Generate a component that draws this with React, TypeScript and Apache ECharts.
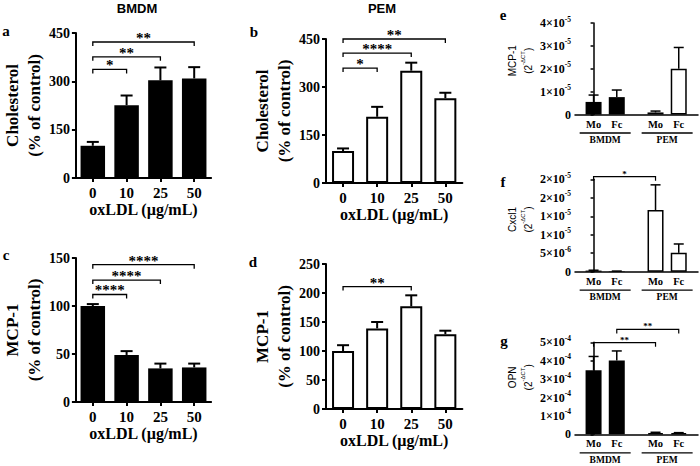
import React, { useEffect, useRef } from 'react';
import * as echarts from 'echarts';

const SERIF = '"Liberation Serif", "Times New Roman", Times, serif';
const SANS = '"Liberation Sans", Arial, Helvetica, sans-serif';

// ---------------- data ----------------
const doseLabels = ['0', '10', '25', '50'];
const cholBmdmMean = [100, 226, 303, 309];
const cholBmdmSem = [12, 30, 40, 35];
const cholPemMean = [100, 207, 351, 265];
const cholPemSem = [8, 31, 25, 17];
const mcpBmdmMean = [100, 49, 35, 36];
const mcpBmdmSem = [2, 4, 5, 4];
const mcpPemMean = [100, 139, 177, 129];
const mcpPemSem = [10, 11, 19, 6];

const sigCholBmdm = [[0, 1, 337], [0, 2, 376], [0, 3, 422]];
const sigCholBmdmLabels = ['*', '**', '**'];
const sigCholPem = [[0, 1, 359], [0, 2, 406], [0, 3, 450]];
const sigCholPemLabels = ['*', '****', '**'];
const sigMcpBmdm = [[0, 1, 112], [0, 2, 127], [0, 3, 143]];
const sigMcpBmdmLabels = ['****', '****', '****'];
const sigMcpPem = [[0, 2, 211]];
const sigMcpPemLabels = ['**'];

const cellLabels = ['Mo', 'Fc', 'Mo', 'Fc'];
const cellGroup = ['BMDM', 'BMDM', 'PEM', 'PEM'];
const groupNames = ['BMDM', 'PEM'];
const mcp1Mean = [0.55e-5, 0.76e-5, 0.09e-5, 2.0e-5];
const mcp1Sem = [0.3e-5, 0.31e-5, 0.06e-5, 0.93e-5];
const cxcl1Mean = [0.03e-5, 0.012e-5, 1.67e-5, 0.51e-5];
const cxcl1Sem = [0.01e-5, 0.005e-5, 0.68e-5, 0.24e-5];
const opnMean = [3.48e-4, 4.01e-4, 0.07e-4, 0.06e-4];
const opnSem = [0.75e-4, 0.52e-4, 0.04e-4, 0.03e-4];

const sigMcp1: number[][] = [];
const sigMcp1Labels: string[] = [];
const sigCxcl1 = [[0, 2, 2.57e-5]];
const sigCxcl1Labels = ['*'];
const sigOpn = [[0, 2, 4.98e-4], [1, 3, 5.7e-4]];
const sigOpnLabels = ['**', '**'];

const mcp1TickLabels = [['0', ''], ['1', '-5'], ['2', '-5'], ['3', '-5'], ['4', '-5']];
const cxcl1TickLabels = [['0', ''], ['5', '-6'], ['1', '-5'], ['1', '-5'], ['2', '-5'], ['2', '-5']];
const opnTickLabels = [['0', ''], ['1', '-4'], ['2', '-4'], ['3', '-4'], ['4', '-4'], ['5', '-4']];

// ---------------- layout ----------------
const cellGap = 0.67; // extra space between the two cell groups (in slot units)
const cellSlot = cellLabels.map((_, i) => i + (i >= 2 ? cellGap : 0));

const dosePanels = [
  { grid: { left: 73.5, top: 33, width: 137.6, height: 145 }, mean: cholBmdmMean, sem: cholBmdmSem, max: 450, interval: 150, yName: 'Cholesterol\n(% of control)', fill: '#000', sig: sigCholBmdm, sigLabels: sigCholBmdmLabels },
  { grid: { left: 326, top: 39, width: 136.4, height: 144 }, mean: cholPemMean, sem: cholPemSem, max: 450, interval: 150, yName: 'Cholesterol\n(% of control)', fill: '#fff', sig: sigCholPem, sigLabels: sigCholPemLabels },
  { grid: { left: 73.5, top: 258, width: 137.6, height: 144 }, mean: mcpBmdmMean, sem: mcpBmdmSem, max: 150, interval: 50, yName: 'MCP-1\n(% of control)', fill: '#000', sig: sigMcpBmdm, sigLabels: sigMcpBmdmLabels },
  { grid: { left: 326, top: 264, width: 136.4, height: 145 }, mean: mcpPemMean, sem: mcpPemSem, max: 250, interval: 50, yName: 'MCP-1\n(% of control)', fill: '#fff', sig: sigMcpPem, sigLabels: sigMcpPemLabels },
];

const cellPanels = [
  { grid: { left: 575, top: 23, width: 123, height: 91.5 }, mean: mcp1Mean, sem: mcp1Sem, max: 4e-5, interval: 1e-5, ticks: mcp1TickLabels, yName: 'MCP-1', shift: 16, sig: sigMcp1, sigLabels: sigMcp1Labels },
  { grid: { left: 575, top: 179.3, width: 123, height: 92.4 }, mean: cxcl1Mean, sem: cxcl1Sem, max: 2.5e-5, interval: 5e-6, ticks: cxcl1TickLabels, yName: 'Cxcl1', shift: 12, sig: sigCxcl1, sigLabels: sigCxcl1Labels },
  { grid: { left: 575, top: 342.3, width: 123, height: 92 }, mean: opnMean, sem: opnSem, max: 5e-4, interval: 1e-4, ticks: opnTickLabels, yName: 'OPN', shift: 22, sig: sigOpn, sigLabels: sigOpnLabels },
];

const boldSerif = (size: number) => ({ fontFamily: SERIF, fontWeight: 'bold' as const, fontSize: size, color: '#000' });

function errorRenderer(cap: number, lw: number) {
  return (params: any, api: any) => {
    const x = api.value(0);
    const m = api.value(1);
    const s = api.value(2);
    const p0 = api.coord([x, m]);
    const p1 = api.coord([x, m + s]);
    const st = { stroke: '#000', lineWidth: lw };
    return {
      type: 'group',
      children: [
        { type: 'line', shape: { x1: p0[0], y1: p0[1], x2: p1[0], y2: p1[1] }, style: st },
        { type: 'line', shape: { x1: p1[0] - cap, y1: p1[1], x2: p1[0] + cap, y2: p1[1] }, style: st },
      ],
    };
  };
}

function bracketRenderer(labels: string[], tick: number, lw: number, fontSize: number, textOffset: number) {
  return (params: any, api: any) => {
    const a = api.coord([api.value(0), api.value(2)]);
    const b = api.coord([api.value(1), api.value(2)]);
    const label = labels[params.dataIndex];
    return {
      type: 'group',
      children: [
        {
          type: 'polyline',
          shape: { points: [[a[0], a[1] + tick], [a[0], a[1]], [b[0], b[1]], [b[0], b[1] + tick]] },
          style: { stroke: '#000', lineWidth: lw, fill: 'none' },
        },
        {
          type: 'text',
          x: (a[0] + b[0]) / 2,
          y: a[1] - textOffset,
          style: {
            text: label,
            fill: '#000',
            fontFamily: SERIF,
            fontWeight: 'bold',
            fontSize,
            font: `bold ${fontSize}px ${SERIF}`,
            align: 'center',
            verticalAlign: 'middle',
            textAlign: 'center',
            textVerticalAlign: 'middle',
          },
        },
      ],
    };
  };
}

function groupRenderer() {
  return (params: any, api: any) => {
    const p = api.coord([api.value(0), 0]);
    const name = groupNames[params.dataIndex];
    return {
      type: 'group',
      children: [
        { type: 'line', shape: { x1: p[0] - 25.5, y1: p[1] + 18.5, x2: p[0] + 25.5, y2: p[1] + 18.5 }, style: { stroke: '#000', lineWidth: 1.3 } },
        {
          type: 'text',
          x: p[0],
          y: p[1] + 25.5,
          style: {
            text: name,
            fill: '#000',
            fontFamily: SERIF,
            fontWeight: 'bold',
            fontSize: 9.5,
            font: `bold 9.5px ${SERIF}`,
            align: 'center',
            verticalAlign: 'middle',
            textAlign: 'center',
            textVerticalAlign: 'middle',
          },
        },
      ],
    };
  };
}

function buildOption() {
  const grid: any[] = [];
  const xAxis: any[] = [];
  const yAxis: any[] = [];
  const series: any[] = [];

  dosePanels.forEach((p, i) => {
    grid.push({ ...p.grid });
    xAxis.push({
      type: 'category',
      gridIndex: i,
      data: doseLabels,
      axisLine: { show: true, lineStyle: { color: '#000', width: 2 } },
      axisTick: { show: true, alignWithLabel: true, length: 4, lineStyle: { color: '#000', width: 2 } },
      axisLabel: { ...boldSerif(15), margin: 7 },
      splitLine: { show: false },
      name: 'oxLDL (µg/mL)',
      nameLocation: 'middle',
      nameGap: 23,
      nameTextStyle: boldSerif(16),
    });
    yAxis.push({
      type: 'value',
      gridIndex: i,
      min: 0,
      max: p.max,
      interval: p.interval,
      axisLine: { show: true, lineStyle: { color: '#000', width: 2 } },
      axisTick: { show: true, length: 4, lineStyle: { color: '#000', width: 2 } },
      axisLabel: { ...boldSerif(14), margin: 6 },
      splitLine: { show: false },
      name: p.yName,
      nameLocation: 'middle',
      nameGap: 25,
      nameTextStyle: { ...boldSerif(17), lineHeight: 22 },
    });
    const white = p.fill === '#fff';
    series.push({
      type: 'bar',
      xAxisIndex: i,
      yAxisIndex: i,
      data: p.mean,
      barWidth: white ? 22 : 24.5,
      itemStyle: { color: p.fill, borderColor: '#000', borderWidth: white ? 2 : 0 },
      silent: true,
    });
    series.push({
      type: 'custom',
      xAxisIndex: i,
      yAxisIndex: i,
      data: p.mean.map((m, k) => [k, m, p.sem[k]]),
      encode: { x: 0, y: 1 },
      renderItem: errorRenderer(6, 2),
      clip: false,
      silent: true,
      z: 3,
    });
    series.push({
      type: 'custom',
      xAxisIndex: i,
      yAxisIndex: i,
      data: p.sig,
      encode: { x: [0, 1], y: 2 },
      renderItem: bracketRenderer(p.sigLabels, 4, 1.3, 15, 4),
      clip: false,
      silent: true,
      z: 4,
    });
  });

  cellPanels.forEach((p, j) => {
    const i = dosePanels.length + j;
    grid.push({ ...p.grid });
    xAxis.push({
      type: 'value',
      gridIndex: i,
      min: -0.8,
      max: 4.5,
      axisLine: { show: true, lineStyle: { color: '#000', width: 1.5 } },
      axisTick: { show: false },
      splitLine: { show: false },
      axisLabel: {
        ...boldSerif(10.5),
        margin: 4,
        customValues: cellSlot,
        formatter: (v: number) => {
          const k = cellSlot.findIndex((s) => Math.abs(s - v) < 0.01);
          return k >= 0 ? cellLabels[k] : '';
        },
      },
    });
    yAxis.push({
      type: 'value',
      gridIndex: i,
      min: 0,
      max: p.max,
      interval: p.interval,
      axisLine: { show: true, lineStyle: { color: '#000', width: 1.5 } },
      axisTick: { show: true, length: 3, lineStyle: { color: '#000', width: 1.5 } },
      splitLine: { show: false },
      axisLabel: {
        margin: 4,
        formatter: (v: number, idx: number) => {
          const t = p.ticks[idx] || ['', ''];
          return t[1] ? `{m|${t[0]}×10}{s|${t[1]}}` : `{m|${t[0]}}`;
        },
        rich: {
          m: { ...boldSerif(12), lineHeight: 16 },
          s: { ...boldSerif(7.5), lineHeight: 8, verticalAlign: 'top' },
        },
      },
      name: `${p.yName}\n(2{s|-ΔCT})`,
      nameLocation: 'middle',
      nameGap: 36,
      nameTextStyle: {
        fontFamily: SANS,
        fontSize: 10,
        color: '#000',
        lineHeight: 16,
        padding: [0, 0, 0, p.shift],
        rich: { s: { fontFamily: SANS, fontSize: 6, lineHeight: 8, verticalAlign: 'top', color: '#000' } },
      },
    });
    series.push({
      type: 'bar',
      xAxisIndex: i,
      yAxisIndex: i,
      barWidth: 16,
      data: p.mean.map((m, k) => ({
        value: [cellSlot[k], m],
        itemStyle: cellGroup[k] === 'BMDM' ? { color: '#000', borderWidth: 0 } : { color: '#fff', borderColor: '#000', borderWidth: 1.5 },
      })),
      silent: true,
    });
    series.push({
      type: 'custom',
      xAxisIndex: i,
      yAxisIndex: i,
      data: p.mean.map((m, k) => [cellSlot[k], m, p.sem[k]]),
      encode: { x: 0, y: 1 },
      renderItem: errorRenderer(5, 1.5),
      clip: false,
      silent: true,
      z: 3,
    });
    series.push({
      type: 'custom',
      xAxisIndex: i,
      yAxisIndex: i,
      data: p.sig.map((s) => [cellSlot[s[0]], cellSlot[s[1]], s[2]]),
      encode: { x: [0, 1], y: 2 },
      renderItem: bracketRenderer(p.sigLabels, 4, 1.2, 9, 3),
      clip: false,
      silent: true,
      z: 4,
    });
    series.push({
      type: 'custom',
      xAxisIndex: i,
      yAxisIndex: i,
      data: groupNames.map((g) => {
        const xs = cellSlot.filter((_, k) => cellGroup[k] === g);
        return [(xs[0] + xs[xs.length - 1]) / 2, 0];
      }),
      encode: { x: 0, y: 1 },
      renderItem: groupRenderer(),
      clip: false,
      silent: true,
    });
  });

  const letter = (text: string, x: number, y: number) => ({
    type: 'text',
    x,
    y,
    style: { text, fill: '#000', font: `bold 15px ${SERIF}`, align: 'center', verticalAlign: 'middle' },
  });

  return {
    animation: false,
    backgroundColor: '#fff',
    grid,
    xAxis,
    yAxis,
    series,
    graphic: [
      { type: 'text', x: 137, y: 8, style: { text: 'BMDM', fill: '#000', font: `bold 13px ${SANS}`, align: 'center', verticalAlign: 'middle' } },
      { type: 'text', x: 382, y: 8, style: { text: 'PEM', fill: '#000', font: `bold 13px ${SANS}`, align: 'center', verticalAlign: 'middle' } },
      letter('a', 6, 31),
      letter('b', 254, 32),
      letter('c', 6, 255),
      letter('d', 253, 262),
      letter('e', 503, 15),
      letter('f', 503, 182),
      letter('g', 504, 341),
    ],
  };
}

export default function App() {
  const ref = useRef<HTMLDivElement>(null);
  useEffect(() => {
    if (!ref.current) return;
    const chart = echarts.init(ref.current, undefined, { renderer: 'svg', width: 700, height: 466 });
    chart.setOption(buildOption() as any);
    return () => chart.dispose();
  }, []);
  return (
    <div
      ref={ref}
      style={{ position: 'absolute', left: 0, top: 0, width: 700, height: 466, background: '#fff' }}
    />
  );
}
